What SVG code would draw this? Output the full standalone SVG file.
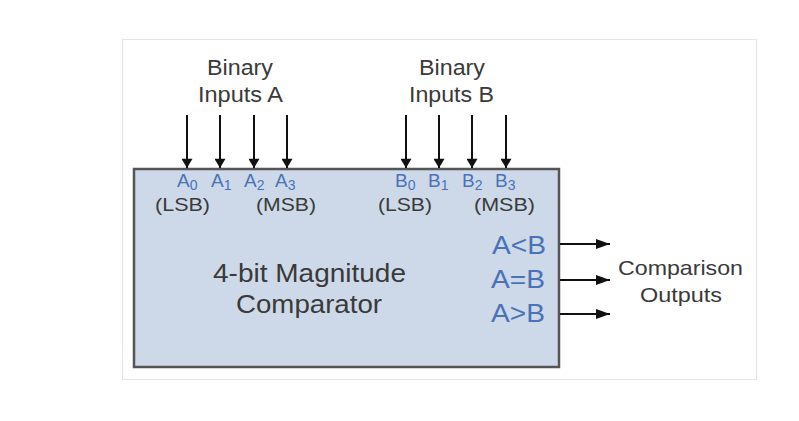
<svg xmlns="http://www.w3.org/2000/svg" width="799" height="421" viewBox="0 0 799 421">
<defs>
<marker id="ah" viewBox="0 0 10 12" refX="10" refY="6" markerWidth="12" markerHeight="11" markerUnits="userSpaceOnUse" orient="auto"><path d="M0,0 L10,6 L0,12 z" fill="#111"/></marker>
<marker id="ahr" viewBox="0 0 14 10" refX="14" refY="5" markerWidth="14" markerHeight="10" markerUnits="userSpaceOnUse" orient="auto"><path d="M0,0 L14,5 L0,10 z" fill="#111"/></marker>
<style>
.t{font-family:"Liberation Sans",Arial,sans-serif;fill:#3a3a3a;}
.blue{font-family:"Liberation Sans",Arial,sans-serif;fill:#4a72b8;}
.ln{stroke:#111;stroke-width:2;fill:none;}
</style>
</defs>
<rect x="0" y="0" width="799" height="421" fill="#fff"/>
<rect x="122.5" y="39.5" width="634" height="340" fill="#fff" stroke="#e4e4e4" stroke-width="1"/>
<g id="comparator">
<rect x="134" y="169" width="425" height="198" fill="#cdd9e8" stroke="#555" stroke-width="2.5"/>
<text class="t" x="309.5" y="282" font-size="26" text-anchor="middle" textLength="193" lengthAdjust="spacingAndGlyphs">4-bit Magnitude</text>
<text class="t" x="309" y="313" font-size="25" text-anchor="middle" textLength="146" lengthAdjust="spacingAndGlyphs">Comparator</text>
<g font-size="19" class="blue">
<text x="177" y="187">A<tspan font-size="14" dy="3">0</tspan></text>
<text x="211" y="187">A<tspan font-size="14" dy="3">1</tspan></text>
<text x="244" y="187">A<tspan font-size="14" dy="3">2</tspan></text>
<text x="275" y="187">A<tspan font-size="14" dy="3">3</tspan></text>
<text x="395" y="187">B<tspan font-size="14" dy="3">0</tspan></text>
<text x="428" y="187">B<tspan font-size="14" dy="3">1</tspan></text>
<text x="462" y="187">B<tspan font-size="14" dy="3">2</tspan></text>
<text x="495" y="187">B<tspan font-size="14" dy="3">3</tspan></text>
</g>
<g font-size="18" text-anchor="middle" class="t">
<text x="182.5" y="211" textLength="55" lengthAdjust="spacingAndGlyphs">(LSB)</text>
<text x="286" y="211" textLength="60" lengthAdjust="spacingAndGlyphs">(MSB)</text>
<text x="405" y="211" textLength="54" lengthAdjust="spacingAndGlyphs">(LSB)</text>
<text x="504.5" y="211" textLength="61" lengthAdjust="spacingAndGlyphs">(MSB)</text>
</g>
<g font-size="25" class="blue">
<text x="492" y="254" textLength="54" lengthAdjust="spacingAndGlyphs">A&lt;B</text>
<text x="491" y="288" textLength="54" lengthAdjust="spacingAndGlyphs">A=B</text>
<text x="491" y="322" textLength="54" lengthAdjust="spacingAndGlyphs">A&gt;B</text>
</g>
</g>
<g id="label-a">
<text class="t" x="240" y="75" font-size="22" text-anchor="middle" textLength="66" lengthAdjust="spacingAndGlyphs">Binary</text>
<text class="t" x="240.5" y="102" font-size="22" text-anchor="middle" textLength="85" lengthAdjust="spacingAndGlyphs">Inputs A</text>
</g>
<g id="label-b">
<text class="t" x="452" y="75" font-size="22" text-anchor="middle" textLength="66" lengthAdjust="spacingAndGlyphs">Binary</text>
<text class="t" x="451.5" y="102" font-size="22" text-anchor="middle" textLength="85" lengthAdjust="spacingAndGlyphs">Inputs B</text>
</g>
<g id="label-out">
<text class="t" x="680.5" y="275" font-size="21" text-anchor="middle" textLength="125" lengthAdjust="spacingAndGlyphs">Comparison</text>
<text class="t" x="681" y="302" font-size="21" text-anchor="middle" textLength="82" lengthAdjust="spacingAndGlyphs">Outputs</text>
</g>
<g id="connectors" class="ln">
<line x1="187" y1="115" x2="187" y2="168" marker-end="url(#ah)"/>
<line x1="220" y1="115" x2="220" y2="168" marker-end="url(#ah)"/>
<line x1="254" y1="115" x2="254" y2="168" marker-end="url(#ah)"/>
<line x1="287" y1="115" x2="287" y2="168" marker-end="url(#ah)"/>
<line x1="406" y1="115" x2="406" y2="168" marker-end="url(#ah)"/>
<line x1="439" y1="115" x2="439" y2="168" marker-end="url(#ah)"/>
<line x1="472" y1="115" x2="472" y2="168" marker-end="url(#ah)"/>
<line x1="506" y1="115" x2="506" y2="168" marker-end="url(#ah)"/>
<line x1="560" y1="244" x2="610" y2="244" marker-end="url(#ahr)"/>
<line x1="560" y1="280" x2="610" y2="280" marker-end="url(#ahr)"/>
<line x1="560" y1="314" x2="610" y2="314" marker-end="url(#ahr)"/>
</g>
</svg>
